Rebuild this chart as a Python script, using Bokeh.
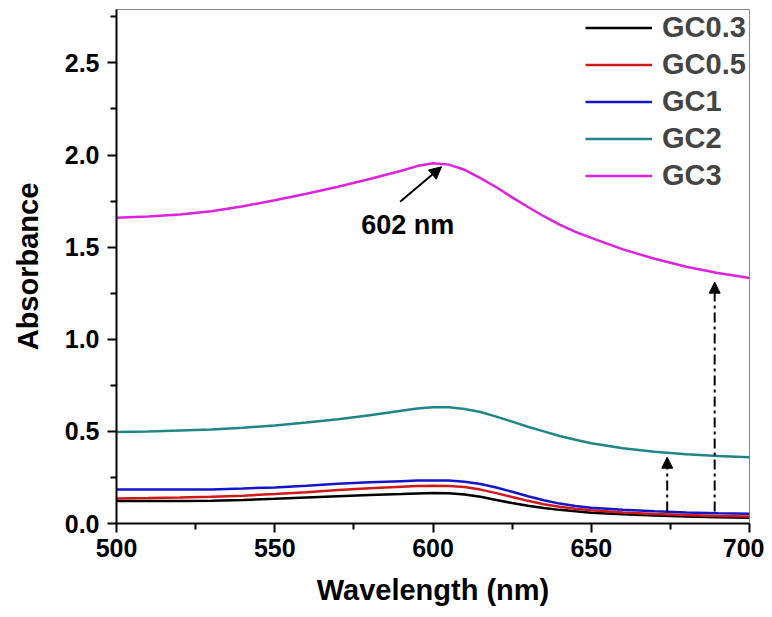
from bokeh.plotting import figure
from bokeh.models import (Range1d, FixedTicker, PrintfTickFormatter, Arrow, NormalHead,
                          Label, Legend, LegendItem)
from bokeh.embed import file_html
from bokeh.resources import INLINE

# ---- data ----
wavelength = [500, 510, 520, 530, 540, 550, 560, 570, 580, 590, 595, 600, 605, 610, 615,
              620, 625, 630, 635, 640, 645, 650, 660, 670, 680, 690, 700]
gc03 = [0.122, 0.122, 0.122, 0.123, 0.128, 0.134, 0.141, 0.148, 0.155, 0.160, 0.163, 0.165, 0.164,
        0.158, 0.145, 0.128, 0.111, 0.096, 0.084, 0.074, 0.066, 0.059, 0.050, 0.043, 0.038, 0.034, 0.031]
gc05 = [0.136, 0.138, 0.141, 0.145, 0.151, 0.160, 0.170, 0.182, 0.192, 0.200, 0.203, 0.205, 0.204,
        0.198, 0.184, 0.165, 0.144, 0.123, 0.105, 0.091, 0.080, 0.072, 0.060, 0.052, 0.046, 0.041, 0.038]
gc1 = [0.185, 0.184, 0.184, 0.185, 0.190, 0.196, 0.205, 0.216, 0.224, 0.230, 0.233, 0.234, 0.233,
       0.227, 0.214, 0.195, 0.172, 0.148, 0.126, 0.108, 0.095, 0.086, 0.074, 0.066, 0.060, 0.056, 0.053]
gc2 = [0.496, 0.500, 0.505, 0.510, 0.520, 0.532, 0.548, 0.566, 0.588, 0.612, 0.624, 0.631, 0.631,
       0.622, 0.605, 0.580, 0.553, 0.525, 0.500, 0.475, 0.455, 0.436, 0.408, 0.389, 0.376, 0.367, 0.360]
gc3 = [1.660, 1.666, 1.677, 1.695, 1.722, 1.755, 1.790, 1.828, 1.870, 1.915, 1.940, 1.955, 1.948,
       1.920, 1.875, 1.825, 1.770, 1.718, 1.668, 1.622, 1.583, 1.550, 1.488, 1.437, 1.394, 1.360, 1.333]

series_names = ["GC0.3", "GC0.5", "GC1", "GC2", "GC3"]
series_values = [gc03, gc05, gc1, gc2, gc3]
series_colors = ["#000000", "#d01818", "#1414c8", "#1f8585", "#dd22dd"]

x_ticks = [500, 550, 600, 650, 700]
x_minor = [525, 575, 625, 675]
y_ticks = [0.0, 0.5, 1.0, 1.5, 2.0, 2.5]
y_minor = [0.25, 0.75, 1.25, 1.75, 2.25, 2.75]

# dash-dot increase arrows
arrow_x = [674, 689]
arrow_y0 = [0.065, 0.065]
arrow_y1 = [0.36, 1.31]

# peak annotation
peak_label = "602 nm"
peak_arrow = (589.6, 1.746, 602.7, 1.936)
peak_text_pos = (592.0, 1.62)

FONT = "Liberation Sans"

p = figure(width=764, height=609, output_backend="svg", toolbar_location=None,
           x_range=Range1d(500, 700), y_range=Range1d(0, 2.79),
           min_border_left=116, min_border_top=9, min_border_right=15, min_border_bottom=86)
p.grid.visible = False
p.outline_line_color = "#888888"
p.outline_line_width = 1
p.background_fill_color = "white"
p.border_fill_color = "white"

for ax in (p.xaxis[0], p.yaxis[0]):
    ax.axis_line_width = 2
    ax.axis_line_color = "black"
    ax.major_tick_line_width = 2
    ax.minor_tick_line_width = 2
    ax.major_tick_out = 9
    ax.major_tick_in = 0
    ax.minor_tick_out = 6
    ax.minor_tick_in = 0
    ax.major_label_text_font = FONT
    ax.major_label_text_font_style = "bold"
    ax.major_label_text_font_size = "25px"
    ax.major_label_text_color = "black"
    ax.axis_label_text_font = FONT
    ax.axis_label_text_font_style = "bold"
    ax.axis_label_text_font_size = "29px"
    ax.axis_label_text_color = "black"

p.xaxis.ticker = FixedTicker(ticks=x_ticks, minor_ticks=x_minor)
p.yaxis.ticker = FixedTicker(ticks=y_ticks, minor_ticks=y_minor)
p.yaxis.formatter = PrintfTickFormatter(format="%.1f")
p.xaxis.axis_label = "Wavelength (nm)"
p.yaxis.axis_label = "Absorbance"
p.xaxis.major_label_standoff = 6
p.yaxis.major_label_standoff = 8
p.xaxis.axis_label_standoff = 14
p.yaxis.axis_label_standoff = 18

items = []
for name, vals, col in zip(series_names, series_values, series_colors):
    r = p.line(wavelength, vals, line_color=col, line_width=2.5)
    items.append(LegendItem(label=name, renderers=[r]))

legend = Legend(items=items, location="top_right", border_line_color=None,
                background_fill_alpha=0, label_text_font=FONT, label_text_font_style="bold",
                label_text_font_size="29px", glyph_width=67, glyph_height=37, label_height=37,
                label_width=87, label_standoff=10, spacing=0, padding=0, margin=0)
p.add_layout(legend)

for xa, y0, y1 in zip(arrow_x, arrow_y0, arrow_y1):
    p.add_layout(Arrow(end=NormalHead(size=11, fill_color="black", line_color="black"),
                       x_start=xa, y_start=y0, x_end=xa, y_end=y1,
                       line_color="black", line_width=2, line_dash="10 4 3 4"))

p.add_layout(Arrow(end=NormalHead(size=12, fill_color="black", line_color="black"),
                   x_start=peak_arrow[0], y_start=peak_arrow[1],
                   x_end=peak_arrow[2], y_end=peak_arrow[3],
                   line_color="black", line_width=2))
p.add_layout(Label(x=peak_text_pos[0], y=peak_text_pos[1], text=peak_label,
                   text_font=FONT, text_font_style="bold", text_font_size="27px",
                   text_align="center", text_baseline="middle", text_color="black"))

open("out.html", "w").write(file_html(p, INLINE))
